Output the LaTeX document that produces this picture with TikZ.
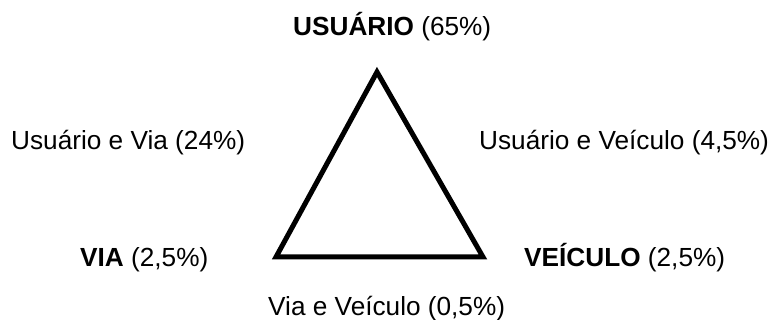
\documentclass[tikz,border=0pt]{standalone}
\usepackage{fontspec}
\setmainfont{Liberation Sans}
\begin{document}
\begin{tikzpicture}[x=1pt,y=-1pt,
  lbl/.style={anchor=base west,inner sep=0pt,font=\fontsize{26.2}{30}\selectfont},
  tri/.style={line width=5pt,line join=miter}]
\useasboundingbox[fill=white] (0,0) rectangle (768,320);
\coordinate (top) at (377,72);
\coordinate (bl) at (276,257);
\coordinate (br) at (483,257);
\draw[tri] (top) -- (bl) -- (br) -- cycle;
\node[lbl] (usuario) at (293,36) {\textbf{USUÁRIO} (65\%)};
\node[lbl] (uvia) at (11,150) {Usuário e Via (24\%)};
\node[lbl] (uveic) at (479,150) {Usuário e Veículo (4,5\%)};
\node[lbl] (via) at (80,267) {\textbf{VIA} (2,5\%)};
\node[lbl] (veic) at (524,267) {\textbf{VEÍCULO} (2,5\%)};
\node[lbl] (viaveic) at (268,315) {Via e Veículo (0,5\%)};
\end{tikzpicture}
\end{document}
